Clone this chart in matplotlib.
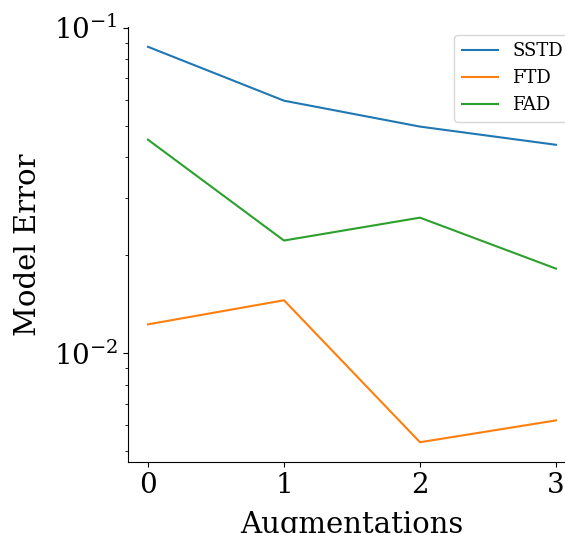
import matplotlib
matplotlib.use("Agg")
import matplotlib.pyplot as plt

# augmentation counts on the x axis
augmentations = [0, 1, 2, 3]

# model error per method
sstd = [0.0874, 0.0597, 0.0497, 0.0437]
ftd = [0.01227, 0.01455, 0.00533, 0.00622]
fad = [0.0453, 0.0222, 0.0261, 0.0182]

plt.rcParams["font.family"] = "DejaVu Serif"
plt.rcParams["mathtext.fontset"] = "dejavuserif"

fig = plt.figure(figsize=(5.65, 5.33), dpi=100)
ax = fig.add_axes([0.2258, 0.1332, 0.7943, 0.8161])

ax.plot(augmentations, sstd, label="SSTD")
ax.plot(augmentations, ftd, label="FTD")
ax.plot(augmentations, fad, label="FAD")

ax.set_yscale("log")
ax.set_xticks(augmentations)
ax.tick_params(axis="both", which="major", labelsize=20)
ax.set_xlabel("Augmentations", fontsize=21, labelpad=9)
ax.set_ylabel("Model Error", fontsize=21, labelpad=8)

ax.spines["top"].set_visible(False)
ax.spines["right"].set_visible(False)

ax.legend(loc="upper right", fontsize=13, borderaxespad=0,
          bbox_to_anchor=(1.009, 0.934), bbox_transform=fig.transFigure)

fig.savefig("out.png", dpi=100)
